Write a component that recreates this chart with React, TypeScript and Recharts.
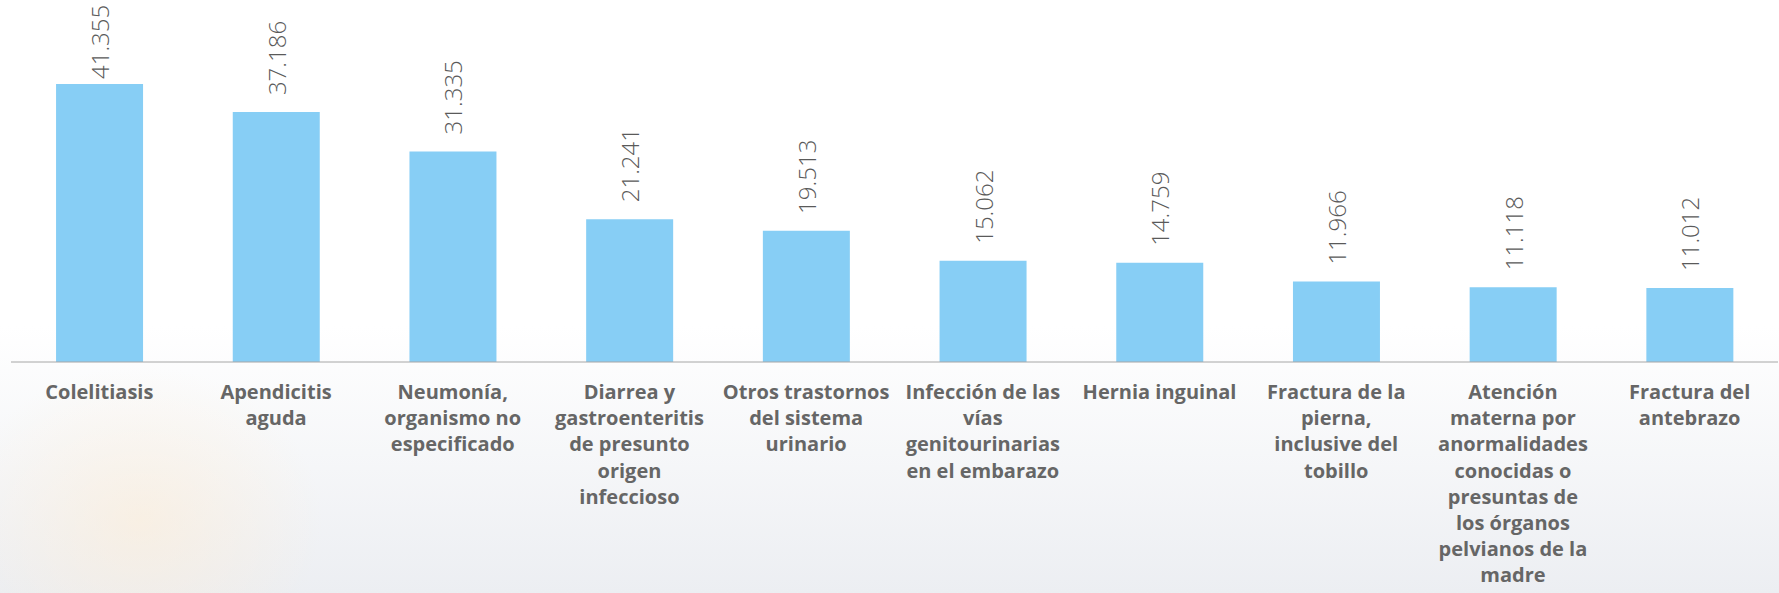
import React from 'react'
import { BarChart, Bar, XAxis, YAxis, LabelList } from 'recharts'

// one label per category, line breaks as in the source
const categories = [
  'Colelitiasis',
  'Apendicitis\naguda',
  'Neumonía,\norganismo no\nespecificado',
  'Diarrea y\ngastroenteritis\nde presunto\norigen\ninfeccioso',
  'Otros trastornos\ndel sistema\nurinario',
  'Infección de las\nvías\ngenitourinarias\nen el embarazo',
  'Hernia inguinal',
  'Fractura de la\npierna,\ninclusive del\ntobillo',
  'Atención\nmaterna por\nanormalidades\nconocidas o\npresuntas de\nlos órganos\npelvianos de la\nmadre',
  'Fractura del\nantebrazo',
]

const casos = [41355, 37186, 31335, 21241, 19513, 15062, 14759, 11966, 11118, 11012]

const boundaryTicks = [0, 1, 2, 3, 4, 5, 6, 7, 8, 9, 10]

const data = categories.map((name, i) => ({ name, casos: casos[i] }))

const fmt = (v: number) => String(v).replace(/\B(?=(\d{3})+(?!\d))/g, '.')

const FONT = "'Century Gothic', 'Open Sans', sans-serif"

// eslint-disable-next-line @typescript-eslint/no-explicit-any
const CategoryTick = ({ x, y, payload }: any) => {
  const lines = String(payload.value).split('\n')
  return (
    <text x={x} y={y} textAnchor="middle" fill="#666666" fontFamily={FONT} fontWeight={700} fontSize={20}>
      {lines.map((l, i) => (
        <tspan key={i} x={x} dy={i === 0 ? 28 : 26.2}>{l}</tspan>
      ))}
    </text>
  )
}

// eslint-disable-next-line @typescript-eslint/no-explicit-any
const ValueLabel = ({ x, y, width, value }: any) => {
  const cx = x + width / 2
  // keep the label inside the chart when the bar is tall
  const cy = Math.max(y - 17, 79)
  return (
    <text
      x={cx}
      y={cy}
      transform={`rotate(-90, ${cx}, ${cy})`}
      textAnchor="start"
      dominantBaseline="central"
      fill="#5a5a5a"
      fontFamily={FONT}
      fontWeight={300}
      fontSize={24}
    >
      {fmt(value)}
    </text>
  )
}

export default function App() {
  return (
    <div
      style={{
        position: 'absolute',
        left: 0,
        top: 0,
        width: 1779,
        height: 593,
        background:
          'radial-gradient(ellipse 260px 220px at 140px 520px, rgba(255,236,210,0.5), rgba(255,255,255,0) 70%), linear-gradient(to bottom, #ffffff 0%, #ffffff 55%, #eceef2 100%)',
      }}
    >
      <BarChart width={1779} height={593} data={data} margin={{ top: 26, right: 1, left: 11, bottom: 0 }} barCategoryGap="25.5%">
        <XAxis
          xAxisId={0}
          type="number"
          domain={[0, 10]}
          ticks={boundaryTicks}
          tick={false}
          tickSize={7}
          height={1}
          stroke="#a6a6a6"
          allowDataOverflow
        />
        <XAxis
          xAxisId={1}
          dataKey="name"
          interval={0}
          axisLine={false}
          tickLine={false}
          tick={<CategoryTick />}
          height={230}
        />
        <YAxis hide domain={[0, 50000]} />
        <Bar xAxisId={1} dataKey="casos" fill="#87cef5" isAnimationActive={false}>
          <LabelList dataKey="casos" content={<ValueLabel />} />
        </Bar>
      </BarChart>
    </div>
  )
}
